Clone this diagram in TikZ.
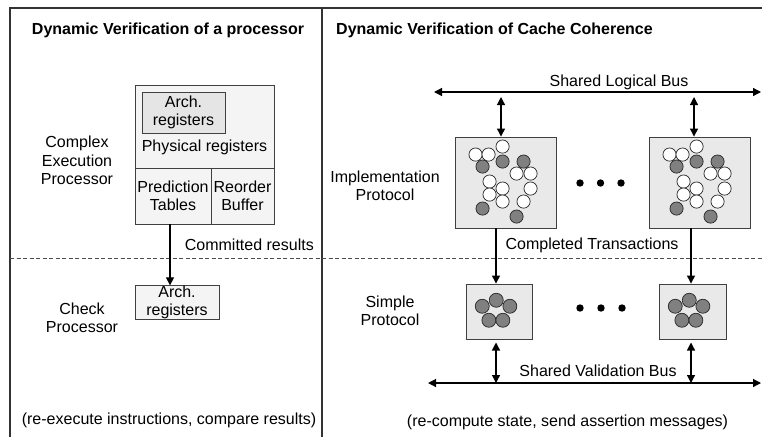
\documentclass[tikz,border=0pt]{standalone}
\usepackage{fontspec}
\setmainfont{Liberation Sans}
\usetikzlibrary{arrows.meta}
\tikzset{
  frame/.style={line width=1.2pt, draw=black!80},
  box/.style={draw=black!75, line width=0.9pt, inner sep=0pt, align=center,
              font=\fontsize{16}{18.5}\selectfont},
  lbl/.style={inner sep=0pt, align=center, font=\fontsize{16}{18.5}\selectfont},
  ttl/.style={inner sep=0pt, font=\bfseries\fontsize{16}{18.5}\selectfont},
  tip/.tip={Triangle[length=8pt,width=8pt]},
  arr/.style={line width=1.2pt, -tip},
  darr/.style={line width=1.2pt, tip-tip},
  wcell/.style={draw=black!85, fill=white, line width=0.7pt},
  gcell/.style={draw=black!85, fill=black!50, line width=0.7pt},
  dot/.style={fill=black},
}
% cache-state cells of an implementation protocol box
\newcommand\implcells{%
  \foreach \p in {(21,18),(34,18),(48,10),(62,37),(76,37),(35,45),(48,52),(76,52),(35,58),(48,65),(69,65)}
    \draw[wcell] \p circle [radius=6.6pt];
  \foreach \p in {(28,30),(48,25),(69,25),(28,72),(62,80)}
    \draw[gcell] \p circle [radius=6.6pt];
}
% cells of a simple protocol box
\newcommand\simplecells{%
  \foreach \p in {(30.7,16.7),(16.7,22.7),(44.3,22.7),(23.3,36.7),(37.3,36.7)}
    \draw[gcell] \p circle [radius=7pt];
}
\begin{document}
\begin{tikzpicture}[x=1pt, y=-1pt]
\useasboundingbox (0,0) rectangle (762,437);

% frame and section dividers
\draw[frame] (10,437) -- (10,8) -- (762,8);
\draw[frame] (322,8) -- (322,437);
\draw[line width=0.9pt, black!70, dash pattern=on 4pt off 2.5pt] (10,258) -- (762,258);

% ---------- processor side ----------
\node[ttl] (ttlL) at (168,30) {Dynamic Verification of a processor};

\node[box, fill=gray!9, minimum width=139, minimum height=83] (phys) at (204.5,126.5) {};
\node[box, fill=gray!9, minimum width=76, minimum height=56] (pred) at (173,196) {Prediction\\Tables};
\node[box, fill=gray!9, minimum width=63, minimum height=56] (reord) at (242.5,196) {Reorder\\Buffer};
\node[box, fill=gray!20, minimum width=83, minimum height=41] (archA) at (183.5,112.5) {Arch.\\registers};
\node[lbl] (physL) at (204.5,147) {Physical registers};

\node[lbl] (cep) at (77,160.5) {Complex\\Execution\\Processor};

\node[box, fill=gray!9, minimum width=84, minimum height=33] (archB) at (177,302.5) {Arch.\\registers};
\node[lbl] (chk) at (82,318) {Check\\Processor};

\draw[arr] ([xshift=-3pt]pred.south) -- ([xshift=-3pt]pred.south |- archB.north);
\node[lbl, anchor=east] (commit) at (314,245) {Committed results};

\node[lbl] (noteL) at (169,420) {(re-execute instructions, compare results)};

% ---------- cache coherence side ----------
\node[ttl, anchor=west] (ttlR) at (336,30) {Dynamic Verification of Cache Coherence};

\coordinate (lbL) at (434,92);
\coordinate (lbR) at (761,92);
\draw[darr] (lbL) -- (lbR);
\node[lbl] (lbus) at (619,82) {Shared Logical Bus};

\node[box, fill=gray!17, minimum width=101, minimum height=91] (imp1) at (505.5,182.5) {};
\node[box, fill=gray!17, minimum width=101, minimum height=91] (imp2) at (699.5,182.5) {};
\begin{scope}[shift={(imp1.north west)}] \implcells \end{scope}
\begin{scope}[shift={(imp2.north west)}] \implcells \end{scope}

\coordinate (u1) at (501,97);
\coordinate (u2) at (694,97);
\draw[darr] (u1) -- (u1 |- imp1.north);
\draw[darr] (u2) -- (u2 |- imp2.north);

\node[lbl] (implL) at (385,186) {Implementation\\Protocol};
\foreach \x in {580,600.5,621} \fill[dot] (\x,183) circle [radius=3.7pt];

\node[box, fill=gray!17, minimum width=66, minimum height=55] (s1) at (499,311.5) {};
\node[box, fill=gray!17, minimum width=67, minimum height=55] (s2) at (692.5,311.5) {};
\begin{scope}[shift={(s1.north west)}] \simplecells \end{scope}
\begin{scope}[shift={(s2.north west)}] \simplecells \end{scope}

\draw[arr] (imp1.south -| 496,0) -- (s1.north -| 496,0);
\draw[arr] (imp2.south -| 691,0) -- (s2.north -| 691,0);
\node[lbl] (compl) at (592,245) {Completed Transactions};

\node[lbl] (simpL) at (390,311) {Simple\\Protocol};
\foreach \x in {580,601,622} \fill[dot] (\x,308) circle [radius=3.7pt];

\coordinate (vbL) at (428,383);
\coordinate (vbR) at (761,383);
\draw[darr] (vbL) -- (vbR);
\coordinate (d1) at (496,342.5);
\coordinate (d2) at (691,342.5);
\draw[darr] (d1) -- (d1 |- vbL);
\draw[darr] (d2) -- (d2 |- vbL);
\node[lbl] (vbus) at (598,371) {Shared Validation Bus};

\node[lbl] (noteR) at (567.5,422) {(re-compute state, send assertion messages)};
\end{tikzpicture}
\end{document}
